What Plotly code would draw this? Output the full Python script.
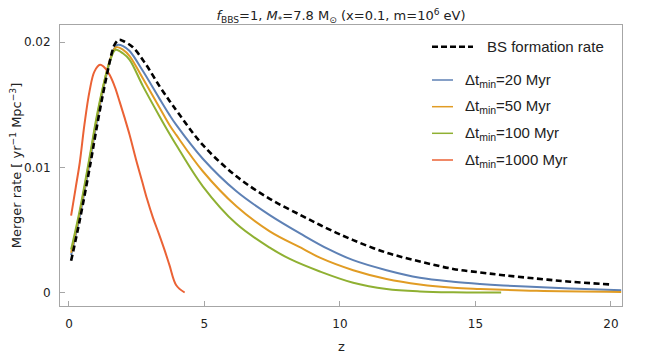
import plotly.graph_objects as go

# values
z_bs = [0.08, 0.4, 0.8, 1.0, 1.25, 1.5, 1.6, 1.68, 1.84, 2.0, 2.36, 2.85, 3.34, 3.72, 4.02,
        4.94, 6.18, 7.41, 8.64, 9.56, 10.49, 11.72, 12.95, 14.18, 15.17, 16.03, 17.26, 18.5, 20.0]
rate_bs = [0.00255, 0.0058, 0.0104, 0.0129, 0.0158, 0.0184, 0.0193, 0.0198, 0.0202, 0.0201,
           0.0196, 0.0182, 0.0165, 0.0153, 0.0144, 0.0118, 0.0093, 0.0075, 0.0061, 0.0051,
           0.0042, 0.0032, 0.0025, 0.0019, 0.00162, 0.0014, 0.00113, 0.00088, 0.00066]

z_20 = [0.08, 0.4, 0.8, 1.0, 1.25, 1.5, 1.65, 1.8, 2.0, 2.24, 2.73, 3.34, 3.71, 3.96, 4.94,
        6.18, 7.41, 8.64, 9.56, 10.49, 11.72, 12.95, 14.18, 15.17, 16.03, 17.26, 18.5, 20.38]
rate_20 = [0.0030, 0.0061, 0.0108, 0.0133, 0.0161, 0.0184, 0.0194, 0.0198, 0.0197, 0.0193,
           0.0177, 0.0155, 0.0142, 0.0134, 0.0107, 0.0081, 0.0062, 0.0046, 0.0035, 0.0026,
           0.0018, 0.0012, 0.00088, 0.0007, 0.00058, 0.00045, 0.00033, 0.0002]

z_50 = [0.08, 0.4, 0.8, 1.0, 1.25, 1.5, 1.74, 2.0, 2.24, 2.73, 3.34, 3.71, 3.96, 4.94, 6.18,
        7.41, 8.64, 9.26, 10.49, 11.72, 12.95, 14.18, 15.17, 17.26, 20.38]
rate_50 = [0.0032, 0.0064, 0.0111, 0.0136, 0.0163, 0.0185, 0.0196, 0.0194, 0.0189, 0.0171,
           0.0148, 0.0134, 0.0126, 0.0097, 0.0069, 0.0049, 0.0035, 0.0028, 0.0018, 0.0011,
           0.00066, 0.0004, 0.0003, 0.00015, 0.00006]

z_100 = [0.08, 0.4, 0.8, 1.0, 1.25, 1.5, 1.72, 2.0, 2.24, 2.73, 3.34, 3.71, 3.96, 4.94, 6.18,
         7.41, 8.15, 9.26, 10.49, 11.72, 12.95, 14.18, 15.95]
rate_100 = [0.00345, 0.0066, 0.0113, 0.0138, 0.0164, 0.0184, 0.0194, 0.0191, 0.0186, 0.0165,
            0.0141, 0.0127, 0.0118, 0.0085, 0.0055, 0.0036, 0.0027, 0.0017, 0.0008, 0.0003,
            0.0001, 0.00003, 0.00001]

z_1000 = [0.08, 0.25, 0.4, 0.57, 0.76, 0.94, 1.15, 1.35, 1.5, 1.7, 1.87, 2.05, 2.24, 2.48,
          2.7, 2.88, 3.1, 3.32, 3.53, 3.71, 3.96, 4.27]
rate_1000 = [0.00615, 0.0084, 0.0104, 0.0134, 0.0161, 0.01766, 0.0182, 0.0179, 0.0174, 0.0164,
             0.01526, 0.0140, 0.0126, 0.0106, 0.0089, 0.0075, 0.0060, 0.0047, 0.0034,
             0.0022, 0.0006, 0.00002]

series = [
    ("BS formation rate", z_bs, rate_bs, "black"),
    ("Δt<sub>min</sub>=20 Myr", z_20, rate_20, "#5E81B5"),
    ("Δt<sub>min</sub>=50 Myr", z_50, rate_50, "#E19C24"),
    ("Δt<sub>min</sub>=100 Myr", z_100, rate_100, "#8FB032"),
    ("Δt<sub>min</sub>=1000 Myr", z_1000, rate_1000, "#EB6235"),
]

# page offset of the plot div (default body margin)
OFF = 8
W, H = 648, 356
L, T = 60 - OFF, 25 - OFF
PW, PH = 562, 281
R, B = W - L - PW, H - T - PH


def px(x, y):
    # page pixel position -> paper coordinates (legend keys, axis label)
    return (x - OFF - L) / PW, (T + PH - (y - OFF)) / PH


fig = go.Figure()

# coloured curves first, dashed BS rate on top
for name, z, r, col in series[1:] + series[:1]:
    dashed = name.startswith("BS")
    fig.add_trace(go.Scatter(
        x=z, y=r, mode="lines", name=name, showlegend=False,
        line=dict(color=col, width=2.6 if dashed else 2,
                  dash="6px,3.5px" if dashed else "solid",
                  shape="spline", smoothing=1.0)
    ))

# hand-built legend (keys of different length like the original)
legend_rows = [(46.7, 41, 485), (80, 21, 463), (106.7, 21, 463), (133.3, 21, 463), (160, 21, 463)]
for (name, z, r, col), (ly, klen, tx) in zip(series, legend_rows):
    dashed = name.startswith("BS")
    x0, y0 = px(432, ly)
    x1, _ = px(432 + klen, ly)
    fig.add_shape(type="line", xref="paper", yref="paper", x0=x0, x1=x1, y0=y0, y1=y0,
                  line=dict(color=col, width=2.6 if dashed else 1.5,
                            dash="6px,3px" if dashed else "solid"))
    ax, ay = px(tx, ly)
    fig.add_annotation(xref="paper", yref="paper", x=ax, y=ay, text=name,
                       showarrow=False, xanchor="left", yanchor="middle",
                       font=dict(family="Liberation Sans", size=15, color="#222"))

# x axis label placed like the original
zx, zy = px(341, 346)
fig.add_annotation(xref="paper", yref="paper", x=zx, y=zy, text="z", showarrow=False,
                   xanchor="center", yanchor="middle",
                   font=dict(family="DejaVu Sans", size=13, color="#222"))

axis_common = dict(
    showline=True, mirror=True, linecolor="#a6a6a6", linewidth=1,
    ticks="inside", ticklen=5, tickcolor="#a6a6a6",
    showgrid=False, zeroline=False, automargin=False,
    tickfont=dict(family="DejaVu Sans", size=12, color="#222"),
)

fig.update_layout(
    width=W, height=H,
    margin=dict(l=L, r=R, t=T, b=B, autoexpand=False),
    paper_bgcolor="white", plot_bgcolor="white",
    title=dict(
        text="<i>f</i><sub>BBS</sub>=1, <i>M</i><sub>*</sub>=7.8 M<sub>⊙</sub> (x=0.1, m=10<sup>6</sup> eV)",
        x=(L + PW / 2) / W, xanchor="center", y=1 - (15.5 - OFF) / H, yanchor="middle",
        font=dict(family="DejaVu Sans", size=13, color="#222"), automargin=False,
    ),
    xaxis=dict(axis_common, range=[-0.33, 20.41], tickvals=[0, 5, 10, 15, 20],
               ticklabelstandoff=7),
    yaxis=dict(axis_common, range=[-0.00106, 0.02138], tickvals=[0, 0.01, 0.02],
               ticktext=["0", "0.01", "0.02"], ticklabelstandoff=6,
               title=dict(text="Merger rate [ yr<sup>−1</sup> Mpc<sup>−3</sup>]", standoff=8,
                          font=dict(family="DejaVu Sans", size=13, color="#222"))),
    showlegend=False,
)

fig.write_html("out.html")
